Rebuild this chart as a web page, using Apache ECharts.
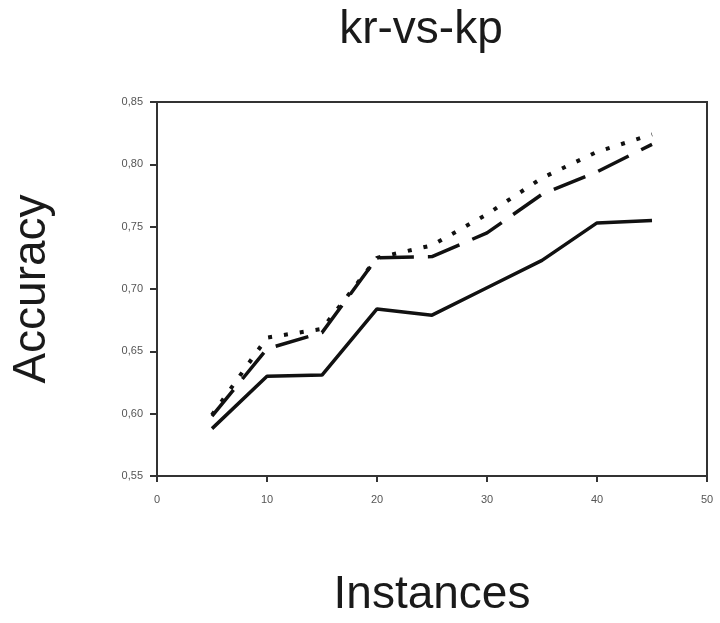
<!DOCTYPE html>
<html>
<head>
<meta charset="utf-8">
<script src="https://cdn.jsdelivr.net/npm/echarts@6/dist/echarts.min.js"></script>
<style>
  html, body { margin: 0; padding: 0; background: #fff; }
  #chart { width: 720px; height: 623px; }
</style>
</head>
<body>
<div id="chart"></div>
<script>
// Data
const instances = [5, 10, 15, 20, 25, 30, 35, 40, 45]
const solidLine = [0.588, 0.630, 0.631, 0.684, 0.679, 0.701, 0.723, 0.753, 0.755]
const dashedLine = [0.598, 0.652, 0.665, 0.725, 0.726, 0.745, 0.776, 0.794, 0.816]
const dottedLine = [0.599, 0.661, 0.668, 0.725, 0.735, 0.760, 0.789, 0.810, 0.824]

const pairs = ys => instances.map((x, i) => [x, ys[i]])
const ink = '#111'

const option = {
  backgroundColor: '#fff',
  animation: false,
  title: {
    text: 'kr-vs-kp',
    left: 416,
    top: 2,
    textAlign: 'center',
    textStyle: {
      fontFamily: 'Liberation Sans',
      fontSize: 46,
      fontWeight: 'normal',
      color: '#1a1a1a'
    }
  },
  grid: {
    left: 157,
    width: 550,
    top: 102,
    height: 381,
    show: true,
    borderColor: '#333',
    borderWidth: 2
  },
  xAxis: {
    type: 'value',
    min: 0,
    max: 50,
    interval: 10,
    name: 'Instances',
    nameLocation: 'middle',
    nameGap: 96,
    nameTextStyle: {
      fontFamily: 'Liberation Sans',
      fontSize: 46,
      color: '#1a1a1a'
    },
    axisLine: { lineStyle: { color: '#333', width: 2 } },
    axisTick: { length: 6, lineStyle: { color: '#333', width: 2 } },
    axisLabel: {
      margin: 18,
      fontFamily: 'Liberation Sans',
      fontSize: 11,
      color: '#555'
    },
    splitLine: { show: false }
  },
  yAxis: {
    type: 'value',
    min: 0.55,
    max: 0.85,
    interval: 0.05,
    name: 'Accuracy',
    nameLocation: 'middle',
    nameGap: 102,
    nameRotate: 90,
    nameTextStyle: {
      fontFamily: 'Liberation Sans',
      fontSize: 46,
      color: '#1a1a1a'
    },
    axisLine: { lineStyle: { color: '#333', width: 2 } },
    axisTick: { length: 7, lineStyle: { color: '#333', width: 2 } },
    axisLabel: {
      margin: 14,
      fontFamily: 'Liberation Sans',
      fontSize: 11,
      color: '#555',
      formatter: v => v.toFixed(2).replace('.', ',')
    },
    splitLine: { show: false }
  },
  series: [
    {
      type: 'line',
      data: pairs(solidLine),
      symbol: 'none',
      lineStyle: { color: ink, width: 3.5 }
    },
    {
      type: 'line',
      data: pairs(dashedLine),
      symbol: 'none',
      lineStyle: { color: ink, width: 3.5, type: [34, 14] }
    },
    {
      type: 'line',
      data: pairs(dottedLine),
      symbol: 'none',
      lineStyle: { color: ink, width: 4, type: [4, 12] }
    }
  ]
}

const chart = echarts.init(document.getElementById('chart'))
chart.setOption(option)
</script>
</body>
</html>
